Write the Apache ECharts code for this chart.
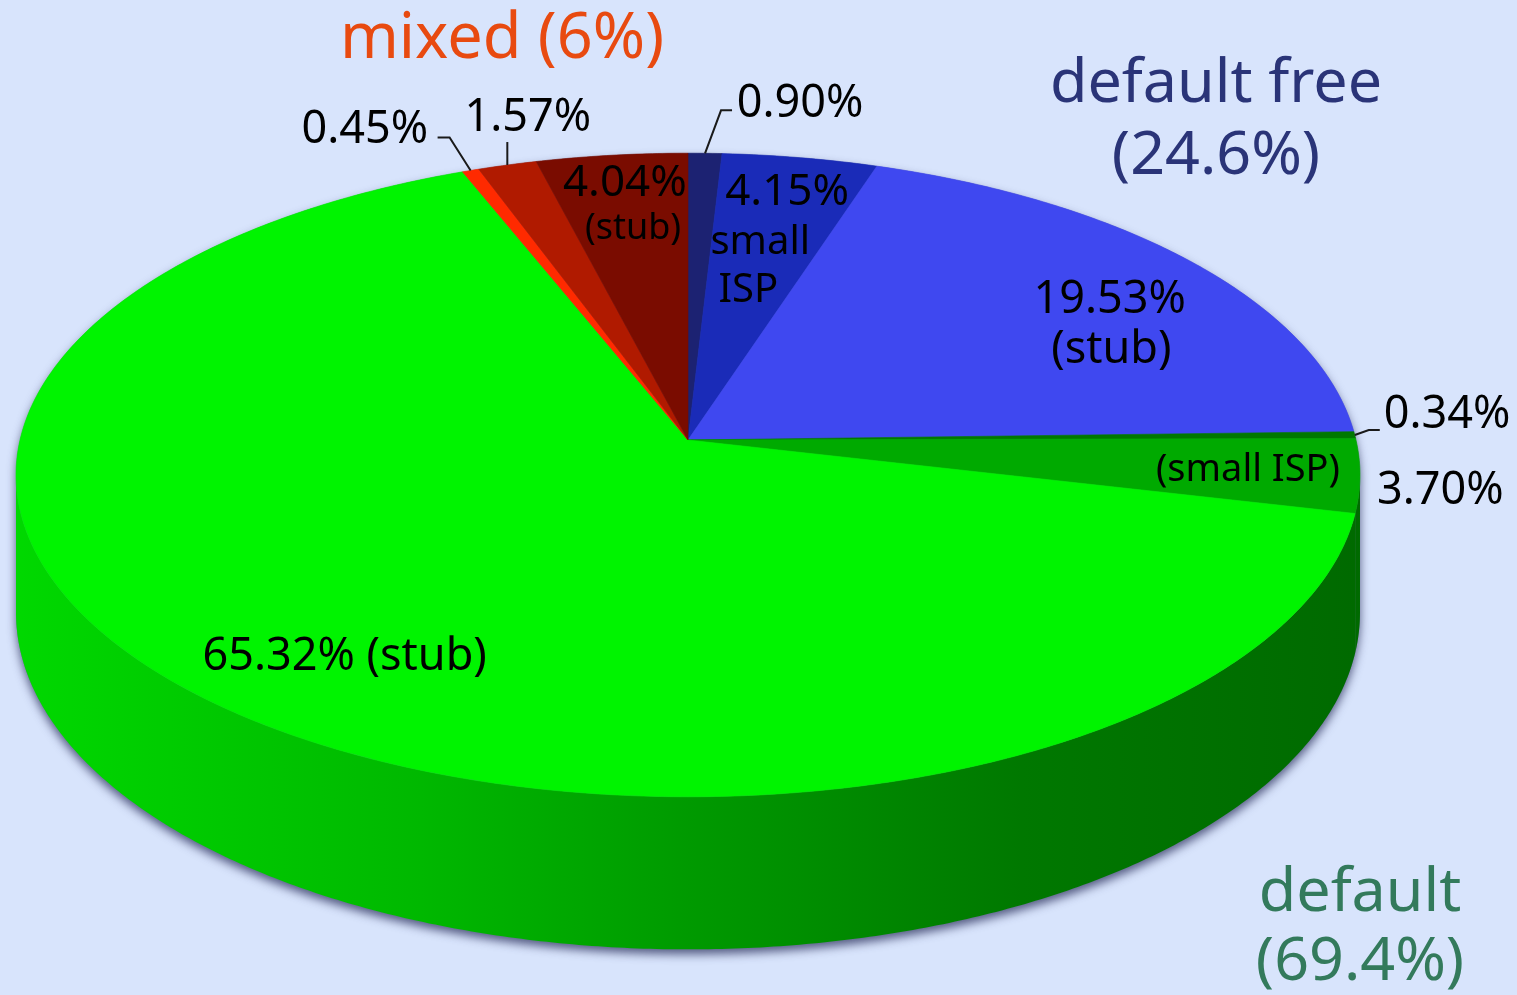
<!DOCTYPE html>
<html>
<head>
<meta charset="utf-8">
<script src="https://cdn.jsdelivr.net/npm/echarts@6/dist/echarts.min.js"></script>
<style>
html,body{margin:0;padding:0;background:#d8e4fc;overflow:hidden;}
#c{width:1517px;height:995px;}
</style>
</head>
<body>
<div id="c"></div>
<script>
// ---- data ----
const categories = ['default free (other)', 'default free small ISP', 'default free stub',
  'default (other)', 'default small ISP', 'default stub',
  'mixed (other)', 'mixed (small ISP)', 'mixed stub'];
const values = [0.90, 4.15, 19.53, 0.34, 3.70, 65.32, 0.45, 1.57, 4.04];
const sliceLabels = [
  ['0.90%'], ['4.15%', 'small', 'ISP'], ['19.53%', '(stub)'],
  ['0.34%'], ['(small ISP)', '3.70%'], ['65.32% (stub)'],
  ['0.45%'], ['1.57%'], ['4.04%', '(stub)']
];
const groupTitles = ['mixed (6%)', 'default free\n(24.6%)', 'default\n(69.4%)'];

// ---- styles / layout ----
const FONT = "'Comic Sans MS', 'Noto Sans', sans-serif";
const topColors = ['#1c2272', '#1a2bb8', '#3f48f0', '#007800', '#00aa00', '#00f400', '#ff2a00', '#b01a00', '#7a0c00'];
const sideStops = [
  { offset: 0, color: '#00d800' }, { offset: 0.3, color: '#00b800' },
  { offset: 0.5, color: '#009a00' }, { offset: 0.75, color: '#007800' },
  { offset: 1, color: '#006a00' }
];
// perspective projection of the disc
const P = { cx: 688, cy: 440, f: 668, g: 318, q: 0.1087, h: 136 };
// label placement per slice: radius factor, angle offset from slice middle (deg), font size, optional leader [dx, dy, tail]
const labelLayout = [
  [{ r: 1.209, d: 7.4, s: 45, leader: [16, -43, 11] }],
  [{ r: 0.864, d: 0.1, s: 44 }, { r: 0.674, d: -0.8, s: 40 }, { r: 0.503, d: 0.2, s: 40 }],
  [{ r: 0.808, d: 1.8, s: 45 }, { r: 0.716, d: 12.6, s: 45 }],
  [{ r: 1.149, d: -3.06, s: 45, leader: [14, -5, 11] }],
  [{ r: 0.835, d: 0.06, s: 38 }, { r: 1.118, d: 1.7, s: 45 }],
  [{ r: 0.795, d: -3.6, s: 45 }],
  [{ r: 1.217, d: -5.4, s: 45, leader: [-21, -33, -12] }],
  [{ r: 1.169, d: 4.05, s: 45, leader: [0, -23, 0] }],
  [{ r: 0.892, d: 0.6, s: 44 }, { r: 0.72, d: 0.2, s: 36 }]
];
const titleLayout = [
  { x: 502, y: 40, s: 63, lh: 70, color: '#e84a10' },
  { x: 1216, y: 121, s: 61, lh: 72, color: '#2a3478' },
  { x: 1360, y: 928, s: 61, lh: 69, color: '#337a5c' }
];

function proj(r, deg, depth) {
  const t = deg * Math.PI / 180;
  const X = r * Math.cos(t), Z = r * Math.sin(t);
  const w = 1 - P.q * Z;
  return [P.cx + P.f * X / w, P.cy + (P.g * Z + (depth || 0) * P.h) / w];
}
const visMin = Math.asin(P.q) * 180 / Math.PI;
const visMax = 180 - visMin;

function arc(a, b, depth, step) {
  const pts = [];
  const n = Math.max(2, Math.ceil(Math.abs(b - a) / (step || 0.5)));
  for (let k = 0; k <= n; k++) pts.push(proj(1, a + (b - a) * k / n, depth));
  return pts;
}

const chart = echarts.init(document.getElementById('c'), null, { renderer: 'canvas' });

function renderItem(params, api) {
  const i = params.dataIndex;
  const total = values.reduce((s, v) => s + v, 0);
  let before = 0;
  for (let k = 0; k < i; k++) before += values[k];
  const v = api.value(0);
  const start = -90 + 360 * before / total;
  const end = start + 360 * v / total;
  const mid = (start + end) / 2;
  const children = [];

  if (i === 0) {
    // drop shadow of whole cylinder
    const hull = arc(visMax, visMin + 360, 0, 1).concat(arc(visMin, visMax, 1, 1));
    children.push({
      type: 'polygon', z2: -10, shape: { points: hull },
      style: { fill: '#6a7898', shadowBlur: 10, shadowColor: 'rgba(40,45,90,0.75)', shadowOffsetY: 5 }
    });
  }
  // side wall
  const a = Math.max(start, visMin), b = Math.min(end, visMax);
  if (b > a) {
    const pts = arc(a, b, 0).concat(arc(b, a, 1));
    children.push({
      type: 'polygon', z2: 0, shape: { points: pts },
      style: {
        fill: { type: 'linear', x: P.cx - P.f, y: 0, x2: P.cx + P.f, y2: 0, colorStops: sideStops, global: true },
        stroke: null
      }
    });
  }
  // top surface
  const topPts = [proj(0, 0)].concat(arc(start, end, 0));
  children.push({
    type: 'polygon', z2: 10, shape: { points: topPts },
    style: { fill: topColors[i], stroke: topColors[i], lineWidth: 0.6 }
  });
  // labels
  sliceLabels[i].forEach((txt, j) => {
    const L = labelLayout[i][j];
    const p = proj(L.r, mid + L.d);
    children.push({
      type: 'text', z2: 100, x: p[0], y: p[1],
      style: {
        text: txt, fill: '#000', fontSize: L.s, fontFamily: FONT,
        align: 'center', verticalAlign: 'middle', textAlign: 'center', textVerticalAlign: 'middle'
      }
    });
    if (L.leader) {
      const e = proj(1, mid);
      const el = [e[0] + L.leader[0], e[1] + L.leader[1]];
      const t = [el[0] + L.leader[2], el[1]];
      children.push({
        type: 'polyline', z2: 90, shape: { points: [e, el, t] },
        style: { stroke: '#1a1a1a', lineWidth: 2, fill: null }
      });
    }
  });
  return { type: 'group', children: children };
}

chart.setOption({
  backgroundColor: '#d8e4fc',
  animation: false,
  graphic: groupTitles.map((t, k) => ({
    type: 'text', x: titleLayout[k].x, y: titleLayout[k].y, z: 10,
    style: {
      text: t, fill: titleLayout[k].color, fontSize: titleLayout[k].s, fontFamily: FONT,
      lineHeight: titleLayout[k].lh, align: 'center', verticalAlign: 'middle',
      textAlign: 'center', textVerticalAlign: 'middle'
    }
  })),
  series: [{
    type: 'custom',
    coordinateSystem: 'none',
    renderItem: renderItem,
    data: values.map((v, k) => ({ name: categories[k], value: [v] }))
  }]
});
</script>
</body>
</html>
